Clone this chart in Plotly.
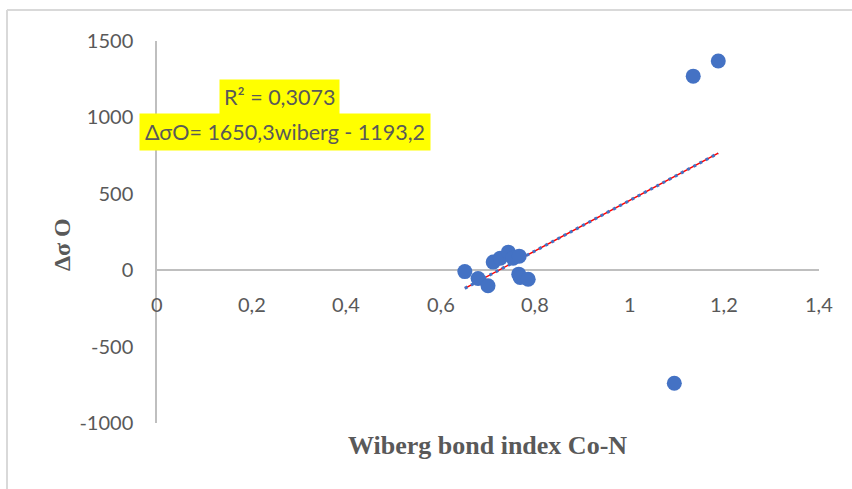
import plotly.graph_objects as go

# Wiberg bond index (Co-N) vs. change in shielding of O
wiberg = [0.651, 0.679, 0.700, 0.711, 0.726, 0.743, 0.753, 0.766, 0.765, 0.768, 0.785, 1.094, 1.134, 1.187]
delta_sigma_o = [-9, -54, -102, 53, 79, 118, 79, 92, -26, -48, -59, -740, 1270, 1369]

# Linear fit reported on the chart
slope = 1650.3
intercept = -1193.2
r_squared_text = "R² = 0,3073"
equation_text = "ΔσO= 1650,3wiberg - 1193,2"

x_ticks = [0, 0.2, 0.4, 0.6, 0.8, 1, 1.2, 1.4]
x_tick_labels = ["0", "0,2", "0,4", "0,6", "0,8", "1", "1,2", "1,4"]
y_ticks = [-1000, -500, 0, 500, 1000, 1500]
y_tick_labels = ["-1000", "-500", "0", "500", "1000", "1500"]

BLUE = "#4472C4"
GREY_TEXT = "#595959"
SANS = "Lato, 'Open Sans', sans-serif"
SERIF = "'Liberation Serif', 'Times New Roman', serif"

fit_x = [min(wiberg), max(wiberg)]
fit_y = [slope * v + intercept for v in fit_x]

fig = go.Figure()

# trendline: thin red core with blue dots on top
fig.add_trace(go.Scatter(x=fit_x, y=fit_y, mode="lines",
                         line=dict(color="#FF0000", width=1.5),
                         hoverinfo="skip", showlegend=False))
fig.add_trace(go.Scatter(x=fit_x, y=fit_y, mode="lines",
                         line=dict(color=BLUE, width=3, dash="3px,4px"),
                         hoverinfo="skip", showlegend=False))

fig.add_trace(go.Scatter(x=wiberg, y=delta_sigma_o, mode="markers",
                         marker=dict(color=BLUE, size=15, line=dict(width=0)),
                         showlegend=False))

annotations = []
for tv, tl in zip(x_ticks, x_tick_labels):
    annotations.append(dict(x=tv, y=0, xref="x", yref="y", text=tl, showarrow=False,
                            yshift=-34, yanchor="middle", xanchor="center",
                            font=dict(family=SANS, size=20, color=GREY_TEXT)))

annotations += [
    dict(x=0.259, y=1133, xref="x", yref="y", text=r_squared_text, showarrow=False,
         bgcolor="#FFFF00", borderpad=4,
         font=dict(family=SANS, size=21.5, color=GREY_TEXT)),
    dict(x=0.270, y=904, xref="x", yref="y", text=equation_text, showarrow=False,
         bgcolor="#FFFF00", borderpad=5,
         font=dict(family=SANS, size=21.5, color=GREY_TEXT)),
    dict(x=0.4985, y=-0.058, xref="paper", yref="paper", text="<b>Wiberg bond index Co-N</b>",
         showarrow=False, xanchor="center", yanchor="middle",
         font=dict(family=SERIF, size=26, color=GREY_TEXT)),
    dict(x=-0.1435, y=0.466, xref="paper", yref="paper", text="<b>Δσ O</b>",
         showarrow=False, textangle=-90, xanchor="center", yanchor="middle",
         font=dict(family=SERIF, size=24, color=GREY_TEXT)),
]

# chart frame: only its left and top edges fall inside the page
frame = dict(color="#D9D9D9", width=2)
shapes = [
    dict(type="line", xref="paper", yref="paper", x0=-0.2266, x1=-0.2266, y0=-0.2, y1=1.0812,
         line=frame, layer="below"),
    dict(type="line", xref="paper", yref="paper", x0=-0.2266, x1=1.1, y0=1.0812, y1=1.0812,
         line=frame, layer="below"),
]

fig.update_layout(
    width=852, height=489,
    margin=dict(l=157, r=33, t=41, b=66),
    paper_bgcolor="white", plot_bgcolor="white",
    annotations=annotations,
    shapes=shapes,
    xaxis=dict(range=[0, 1.4], tickvals=x_ticks, showticklabels=False,
               showgrid=False, zeroline=False, showline=False, fixedrange=True),
    yaxis=dict(range=[-1000, 1500], tickvals=y_ticks, ticktext=y_tick_labels,
               showgrid=False, zeroline=True, zerolinecolor="#BFBFBF", zerolinewidth=1.5,
               showline=True, linecolor="#BFBFBF", linewidth=1.5,
               ticks="", ticklabelstandoff=18,
               tickfont=dict(family=SANS, size=20, color=GREY_TEXT), fixedrange=True),
)

fig.write_html("out.html")
